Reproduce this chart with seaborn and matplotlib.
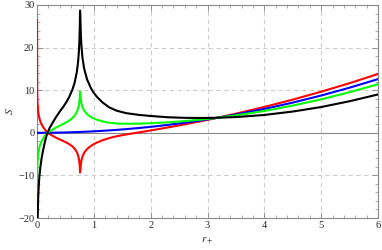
import matplotlib
matplotlib.use("Agg")
from matplotlib import pyplot as plt
from matplotlib.ticker import MultipleLocator
import seaborn as sns

# values
r_plus = [0.0, 0.003, 0.005, 0.01, 0.02, 0.03, 0.04, 0.06, 0.08, 0.10,
          0.13, 0.16, 0.185, 0.22, 0.28, 0.33, 0.40, 0.46, 0.51, 0.56,
          0.62, 0.66, 0.70, 0.72, 0.735, 0.745, 0.752, 0.757, 0.762, 0.77,
          0.78, 0.80, 0.83, 0.88, 0.95, 1.0, 1.05, 1.15, 1.27, 1.4,
          1.57, 1.8, 2.0, 2.3, 2.6, 2.9, 3.13, 3.5, 4.0, 4.5,
          5.0, 5.5, 6.0]

s_red = [26.5, 9.5, 8.3, 6.6, 5.0, 4.1, 3.45, 2.6, 2.0, 1.5,
         0.91, 0.41, 0.01, -0.28, -0.75, -1.11, -1.56, -1.93, -2.24, -2.61,
         -3.17, -3.70, -4.53, -5.22, -6.01, -6.91, -8.0, -9.3, -8.8, -7.49,
         -6.59, -5.55, -4.68, -3.82, -3.05, -2.65, -2.31, -1.77, -1.24, -0.81,
         -0.39, 0.11, 0.55, 1.25, 1.99, 2.76, 3.40, 4.49, 6.07, 7.79,
         9.65, 11.65, 13.8]

s_blue = [0.0, 0.0, 0.0, 0.0, 0.0, 0.0, 0.0, 0.001, 0.002, 0.004,
          0.006, 0.009, 0.012, 0.017, 0.027, 0.038, 0.056, 0.074, 0.091, 0.11,
          0.135, 0.152, 0.172, 0.181, 0.189, 0.194, 0.198, 0.2, 0.203, 0.208,
          0.213, 0.224, 0.241, 0.271, 0.316, 0.35, 0.386, 0.463, 0.565, 0.686,
          0.863, 1.134, 1.4, 1.85, 2.37, 2.94, 3.43, 4.29, 5.6, 7.09,
          8.75, 10.59, 12.6]

s_green = [-26.5, -9.5, -8.3, -6.6, -5.0, -4.1, -3.45, -2.6, -2.0, -1.5,
           -0.89, -0.39, 0.01, 0.32, 0.81, 1.19, 1.68, 2.07, 2.42, 2.83,
           3.44, 4.0, 4.87, 5.58, 6.39, 7.29, 8.4, 9.7, 9.2, 7.91,
           7.01, 5.99, 5.16, 4.36, 3.69, 3.35, 3.09, 2.69, 2.37, 2.19,
           2.11, 2.15, 2.25, 2.45, 2.75, 3.12, 3.46, 4.09, 5.13, 6.39,
           7.85, 9.53, 11.4]

s_black = [-79.5, -30.0, -26.0, -20.5, -15.3, -12.4, -10.4, -7.9, -6.0, -4.5,
           -2.6, -1.0, 0.0, 1.1, 2.5, 3.6, 5.0, 6.07, 7.08, 8.27,
           10.04, 11.7, 14.27, 16.38, 18.79, 21.49, 24.8, 28.7, 27.2, 23.3,
           20.6, 17.53, 15.0, 12.54, 10.43, 9.35, 8.49, 7.15, 5.97, 5.19,
           4.61, 4.19, 3.95, 3.65, 3.51, 3.48, 3.52, 3.69, 4.19, 4.99,
           6.05, 7.41, 9.0]

sns.set_style("ticks")
plt.rcParams["font.family"] = ["Liberation Serif", "DejaVu Serif"]
plt.rcParams["mathtext.fontset"] = "stix"

fig = plt.figure(figsize=(3.82, 2.5), dpi=100)
ax = fig.add_axes([0.097, 0.128, 0.8925, 0.852])

grid_kw = dict(color="#cccccc", lw=0.8, ls=(0, (4, 3)), zorder=0)
for gx in [1, 2, 3, 4, 5]:
    ax.axvline(gx, **grid_kw)
for gy in [-10, 10, 20]:
    ax.axhline(gy, **grid_kw)
ax.axhline(0, color="#888888", lw=0.8, zorder=1)

lw = 1.5
sns.lineplot(x=r_plus, y=s_red, color="#ff0000", lw=lw, ax=ax, estimator=None, zorder=3)
sns.lineplot(x=r_plus, y=s_blue, color="#0000ff", lw=lw, ax=ax, estimator=None, zorder=4)
sns.lineplot(x=r_plus, y=s_green, color="#00ff00", lw=lw, ax=ax, estimator=None, zorder=5)
sns.lineplot(x=r_plus, y=s_black, color="#000000", lw=lw, ax=ax, estimator=None, zorder=6)

ax.set_xlim(0, 6)
ax.set_ylim(-20, 30)
ax.xaxis.set_major_locator(MultipleLocator(1))
ax.xaxis.set_minor_locator(MultipleLocator(0.2))
ax.yaxis.set_major_locator(MultipleLocator(10))
ax.yaxis.set_minor_locator(MultipleLocator(2))
ax.tick_params(which="both", direction="in", top=True, right=True,
               color="#888888", labelsize=7.5, pad=2)
ax.tick_params(which="major", length=4, width=0.6)
ax.tick_params(which="minor", length=2, width=0.5)
for sp in ax.spines.values():
    sp.set_color("#888888")
    sp.set_linewidth(0.8)

ax.set_xlabel(r"$r_+$", fontsize=8, labelpad=4)
ax.set_ylabel(r"$S$", fontsize=8, labelpad=2)

plt.savefig("out.png", dpi=100)
